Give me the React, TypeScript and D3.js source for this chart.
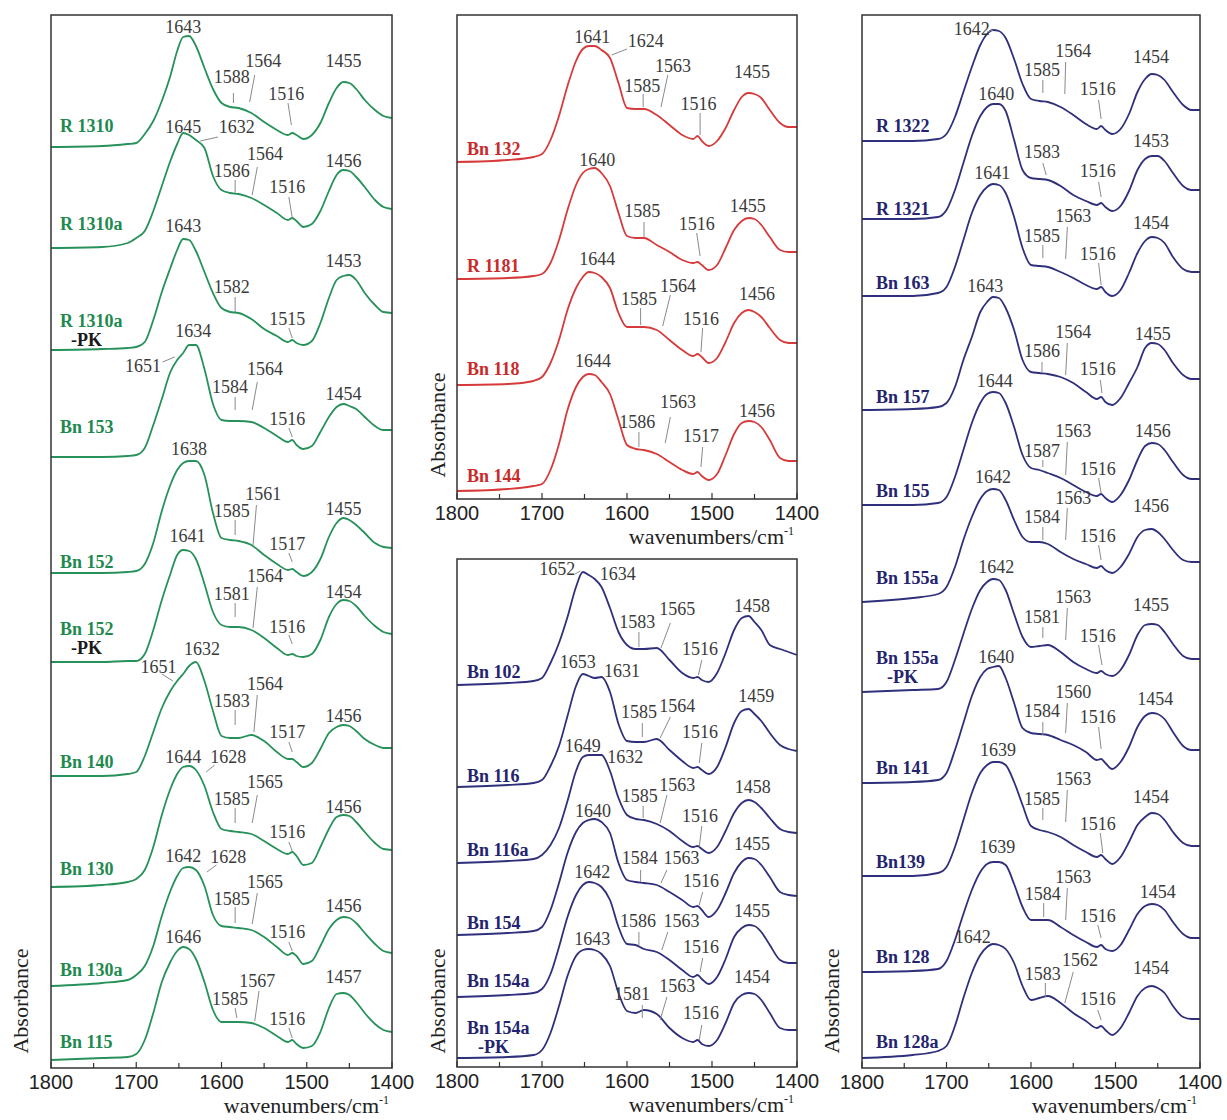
import React from "react";
import * as d3 from "d3";

const WAVENUMBERS = [1800, 1740, 1710, 1700, 1690, 1680, 1670, 1660, 1652, 1645, 1638, 1630, 1620, 1610, 1600, 1590, 1580, 1565, 1550, 1535, 1522, 1517, 1512, 1504, 1494, 1484, 1474, 1465, 1457, 1450, 1442, 1432, 1420, 1410, 1400];
const MAJOR_TICKS = [1800, 1700, 1600, 1500, 1400];
const MINOR_TICKS = [1750, 1650, 1550, 1450];

// ---------- Panel A (left, green) ----------
const namesA = ["R 1310", "R 1310a", "R 1310a", "Bn 153", "Bn 152", "Bn 152", "Bn 140", "Bn 130", "Bn 130a", "Bn 115"];
const suffixA = ["", "", "-PK", "", "", "-PK", "", "", "", ""];
const offsetsA = [921, 820, 718, 611, 495, 406, 292, 181, 82, 8];
const labelHA = [15, 18, 23, 24, 5, 27, 8, 12, 10, 12];
const spectraA = [
  [0, 1, 3, 4, 13, 26, 46, 71, 96, 110, 111, 101, 79, 58, 44, 40, 39, 34, 25, 17, 12, 14, 12, 8, 12, 24, 44, 59, 65, 64, 58, 47, 37, 31, 29],
  [0, 1, 5, 10, 17, 37, 62, 87, 104, 115, 113, 108, 100, 72, 58, 55, 54, 50, 43, 35, 28, 30, 27, 21, 24, 37, 57, 73, 78, 77, 71, 61, 48, 41, 39],
  [0, 1, 2, 3, 8, 30, 58, 82, 100, 111, 110, 99, 78, 57, 42, 38, 37, 31, 21, 14, 8, 10, 7, 5, 9, 27, 52, 70, 74, 75, 70, 57, 45, 38, 37],
  [0, 0, 1, 2, 9, 32, 58, 85, 97, 104, 112, 112, 88, 53, 37, 36, 36, 35, 29, 21, 15, 17, 12, 8, 11, 25, 40, 50, 53, 51, 48, 40, 31, 27, 27],
  [0, 0, 1, 2, 9, 30, 62, 88, 103, 110, 112, 112, 98, 60, 35, 33, 32, 28, 18, 9, 3, 4, 1, -3, 1, 14, 36, 50, 55, 53, 48, 40, 30, 26, 25],
  [0, 0, 1, 1, 8, 32, 62, 88, 107, 112, 111, 103, 78, 50, 37, 35, 35, 32, 24, 14, 7, 8, 6, 5, 8, 22, 45, 58, 62, 61, 56, 46, 36, 30, 28],
  [0, 0, 2, 4, 20, 44, 68, 85, 95, 102, 110, 114, 95, 65, 40, 38, 38, 41, 35, 24, 17, 17, 14, 9, 13, 27, 43, 49, 51, 50, 45, 37, 31, 28, 28],
  [0, 2, 5, 8, 17, 40, 72, 98, 113, 120, 121, 117, 101, 75, 58, 56, 55, 53, 46, 38, 33, 35, 31, 22, 24, 40, 58, 70, 72, 71, 65, 55, 44, 38, 37],
  [0, 3, 6, 11, 20, 40, 70, 95, 110, 118, 119, 116, 100, 71, 60, 59, 58, 56, 49, 39, 31, 33, 30, 22, 25, 40, 57, 66, 69, 68, 63, 53, 42, 35, 33],
  [0, 2, 3, 6, 20, 47, 78, 98, 109, 113, 111, 101, 78, 50, 38, 38, 38, 37, 32, 24, 18, 20, 16, 12, 14, 28, 52, 66, 67, 65, 58, 47, 36, 30, 28],
];
// [text, wavenumber, height, (leader: wn1, h1, wn2, h2)]
const notesA: (string | number)[][][] = [
  [["1643", 1645, 114], ["1588", 1588, 64, 1586, 54, 1586, 44], ["1564", 1551, 80, 1561, 72, 1567, 45], ["1516", 1524, 47, 1522, 44, 1518, 22], ["1455", 1457, 80]],
  [["1645", 1645, 115], ["1632", 1582, 115, 1604, 111, 1625, 107], ["1586", 1588, 71, 1584, 68, 1584, 55], ["1564", 1549, 88, 1558, 81, 1564, 53], ["1516", 1523, 55, 1521, 51, 1517, 30], ["1456", 1457, 81]],
  [["1643", 1645, 118], ["1582", 1588, 57, 1584, 53, 1584, 38], ["1515", 1523, 25, 1521, 22, 1517, 12], ["1453", 1457, 83]],
  [["1634", 1633, 120], ["1651", 1692, 85, 1669, 95, 1655, 100], ["1584", 1590, 64, 1584, 60, 1584, 47], ["1564", 1549, 82, 1558, 75, 1564, 47], ["1516", 1523, 32, 1521, 29, 1517, 20], ["1454", 1457, 57]],
  [["1638", 1638, 118], ["1585", 1588, 56, 1584, 53, 1584, 38], ["1561", 1551, 73, 1559, 68, 1563, 28], ["1517", 1523, 23, 1521, 20, 1517, 11], ["1455", 1457, 58]],
  [["1641", 1640, 120], ["1581", 1588, 62, 1584, 59, 1584, 45], ["1564", 1549, 80, 1558, 75, 1563, 34], ["1516", 1523, 29, 1521, 27, 1517, 18], ["1454", 1457, 64]],
  [["1632", 1623, 121], ["1651", 1674, 103, 1670, 102, 1657, 95], ["1583", 1588, 69, 1584, 66, 1584, 51], ["1564", 1549, 86, 1558, 81, 1562, 44], ["1517", 1523, 38, 1521, 34, 1517, 24], ["1456", 1457, 54]],
  [["1644", 1645, 124], ["1628", 1592, 124, 1608, 122, 1618, 115], ["1585", 1588, 82, 1584, 79, 1584, 64], ["1565", 1549, 99, 1558, 92, 1564, 64], ["1516", 1523, 49, 1521, 45, 1517, 36], ["1456", 1457, 74]],
  [["1642", 1645, 124], ["1628", 1592, 123, 1606, 121, 1617, 114], ["1585", 1588, 81, 1584, 79, 1584, 63], ["1565", 1549, 98, 1558, 93, 1564, 62], ["1516", 1523, 48, 1521, 44, 1517, 35], ["1456", 1457, 74]],
  [["1646", 1645, 117], ["1585", 1590, 55, 1584, 52, 1582, 42], ["1567", 1558, 73, 1556, 69, 1561, 39], ["1516", 1523, 35, 1521, 32, 1517, 22], ["1457", 1457, 77]],
];

// ---------- Panel B (middle top, red) ----------
const namesB = ["Bn 132", "R 1181", "Bn 118", "Bn 144"];
const suffixB = ["", "", "", ""];
const offsetsB = [337, 220, 114, 8];
const labelHB = [7, 7, 10, 9];
const spectraB = [
  [0, 2, 5, 8, 22, 46, 76, 101, 113, 116, 116, 112, 104, 79, 54, 53, 53, 47, 37, 27, 23, 26, 21, 16, 21, 34, 52, 65, 69, 68, 64, 52, 39, 35, 35],
  [0, 1, 3, 5, 16, 39, 69, 94, 106, 110, 111, 106, 93, 66, 43, 41, 41, 34, 27, 19, 16, 17, 14, 9, 14, 31, 49, 58, 61, 60, 54, 42, 29, 27, 27],
  [0, 1, 4, 8, 22, 45, 75, 97, 108, 113, 112, 108, 97, 72, 58, 58, 58, 55, 45, 35, 29, 31, 28, 22, 27, 43, 62, 72, 75, 73, 68, 57, 45, 42, 42],
  [0, 2, 5, 7, 21, 47, 81, 104, 114, 117, 116, 109, 97, 71, 46, 42, 41, 37, 29, 21, 17, 19, 15, 11, 17, 36, 57, 68, 70, 69, 64, 51, 33, 30, 30],
];
const notesB: (string | number)[][][] = [
  [["1641", 1641, 119], ["1624", 1578, 115, 1600, 113, 1618, 107], ["1563", 1546, 90, 1552, 87, 1560, 55], ["1585", 1582, 70, 1581, 68, 1581, 55], ["1516", 1516, 52, 1514, 49, 1514, 27], ["1455", 1453, 84]],
  [["1640", 1635, 113], ["1585", 1582, 62, 1580, 57, 1580, 42], ["1516", 1518, 49, 1518, 46, 1514, 23], ["1455", 1458, 67]],
  [["1644", 1635, 120], ["1585", 1586, 80, 1584, 77, 1584, 60], ["1564", 1540, 93, 1549, 90, 1558, 59], ["1516", 1513, 60, 1511, 57, 1513, 33], ["1456", 1447, 85]],
  [["1644", 1640, 124], ["1586", 1588, 63, 1586, 59, 1586, 44], ["1563", 1540, 83, 1549, 74, 1555, 48], ["1517", 1513, 49, 1511, 44, 1513, 24], ["1456", 1447, 74]],
];

// ---------- Panel C (middle bottom, navy) ----------
const namesC = ["Bn 102", "Bn 116", "Bn 116a", "Bn 154", "Bn 154a", "Bn 154a"];
const suffixC = ["", "", "", "", "", "-PK"];
const offsetsC = [382, 280, 204, 132, 70, 9];
const labelHC = [7, 5, 7, 6, 10, 24];
const spectraC = [
  [0, 2, 4, 7, 22, 42, 68, 98, 113, 110, 106, 98, 77, 53, 40, 36, 36, 37, 25, 12, 7, 8, 5, 3, 12, 32, 55, 67, 69, 63, 55, 40, 36, 33, 30],
  [0, 2, 4, 7, 21, 41, 71, 101, 113, 111, 109, 110, 95, 63, 46, 45, 45, 48, 37, 26, 19, 20, 17, 13, 20, 40, 64, 76, 78, 73, 66, 54, 42, 38, 36],
  [0, 2, 4, 8, 18, 35, 62, 92, 106, 108, 108, 108, 92, 65, 48, 44, 43, 39, 32, 22, 16, 17, 14, 10, 16, 32, 50, 60, 63, 61, 55, 45, 34, 31, 30],
  [0, 2, 4, 8, 25, 52, 82, 103, 112, 115, 116, 113, 102, 72, 55, 53, 52, 50, 43, 35, 28, 29, 25, 18, 25, 42, 62, 73, 77, 76, 70, 58, 43, 40, 39],
  [0, 2, 4, 8, 23, 50, 80, 102, 112, 115, 114, 110, 97, 70, 53, 52, 48, 45, 37, 27, 20, 22, 18, 13, 20, 38, 60, 69, 72, 71, 65, 52, 37, 34, 34],
  [0, 1, 3, 8, 25, 52, 82, 102, 108, 109, 108, 104, 92, 65, 47, 45, 48, 44, 30, 20, 16, 18, 14, 12, 18, 35, 55, 63, 65, 64, 58, 45, 30, 28, 28],
];
const notesC: (string | number)[][][] = [
  [["1652", 1682, 110, 1661, 111, 1655, 114], ["1634", 1611, 105], ["1583", 1588, 57, 1586, 53, 1586, 38], ["1565", 1541, 70, 1549, 62, 1560, 37], ["1516", 1514, 30, 1512, 25, 1516, 10], ["1458", 1453, 73]],
  [["1653", 1658, 119], ["1631", 1606, 110], ["1585", 1586, 69, 1582, 64, 1582, 50], ["1564", 1541, 75, 1549, 70, 1561, 49], ["1516", 1514, 49, 1512, 44, 1515, 24], ["1459", 1448, 85]],
  [["1649", 1652, 111], ["1632", 1602, 100], ["1585", 1585, 61, 1581, 57, 1581, 45], ["1563", 1541, 72, 1553, 68, 1561, 40], ["1516", 1514, 41, 1512, 37, 1515, 16], ["1458", 1452, 70]],
  [["1640", 1640, 118], ["1584", 1585, 71, 1584, 65, 1584, 53], ["1563", 1536, 71, 1553, 65, 1560, 52], ["1516", 1513, 48, 1511, 43, 1515, 30], ["1455", 1453, 85]],
  [["1642", 1641, 119], ["1586", 1587, 70, 1586, 65, 1586, 52], ["1563", 1536, 70, 1552, 65, 1559, 47], ["1516", 1513, 44, 1511, 39, 1514, 25], ["1455", 1453, 80]],
  [["1643", 1641, 113], ["1581", 1594, 58, 1582, 53, 1582, 40], ["1563", 1541, 66, 1553, 61, 1561, 38], ["1516", 1513, 39, 1512, 33, 1515, 18], ["1454", 1453, 75]],
];

// ---------- Panel D (right, navy) ----------
const namesD = ["R 1322", "R 1321", "Bn 163", "Bn 157", "Bn 155", "Bn 155a", "Bn 155a", "Bn 141", "Bn139", "Bn 128", "Bn 128a"];
const suffixD = ["", "", "", "", "", "", "-PK", "", "", "", ""];
const offsetsD = [927, 849, 772, 658, 563, 466, 376, 285, 192, 96, 10];
const labelHD = [9, 4, 7, 7, 8, 18, 28, 9, 8, 9, 10];
const spectraD = [
  [0, 0, 2, 7, 24, 49, 74, 96, 107, 111, 110, 103, 82, 57, 42, 40, 39, 34, 26, 17, 12, 15, 11, 7, 12, 27, 49, 62, 67, 66, 61, 49, 36, 31, 31],
  [0, 0, 2, 9, 29, 56, 83, 103, 112, 115, 115, 108, 79, 49, 41, 40, 39, 33, 24, 18, 14, 16, 12, 8, 13, 28, 49, 60, 63, 63, 58, 46, 33, 29, 29],
  [0, 0, 3, 9, 29, 56, 83, 101, 109, 112, 111, 103, 79, 48, 31, 30, 29, 24, 18, 11, 7, 9, 4, 0, 6, 23, 43, 55, 59, 58, 53, 39, 27, 24, 24],
  [0, 1, 3, 7, 23, 50, 73, 98, 108, 113, 112, 102, 80, 50, 38, 37, 36, 33, 27, 18, 11, 13, 8, 5, 12, 27, 43, 62, 67, 66, 60, 47, 35, 31, 31],
  [0, 0, 2, 8, 28, 55, 82, 102, 111, 113, 112, 102, 78, 50, 37, 35, 32, 27, 20, 13, 9, 11, 7, 3, 10, 25, 45, 59, 62, 61, 55, 43, 30, 26, 26],
  [0, 4, 8, 15, 35, 62, 85, 103, 111, 113, 112, 102, 82, 65, 60, 60, 58, 50, 43, 38, 34, 36, 32, 29, 35, 48, 65, 72, 73, 70, 63, 52, 42, 40, 40],
  [0, 2, 3, 10, 32, 58, 83, 102, 110, 113, 112, 102, 78, 55, 45, 46, 47, 40, 30, 23, 19, 21, 18, 16, 22, 37, 57, 67, 68, 67, 60, 48, 36, 33, 33],
  [0, 1, 3, 10, 33, 60, 87, 106, 114, 116, 117, 105, 80, 55, 50, 49, 48, 43, 38, 31, 23, 24, 20, 14, 21, 36, 56, 67, 70, 69, 64, 51, 37, 33, 33],
  [0, 0, 3, 9, 29, 56, 83, 103, 111, 114, 114, 111, 94, 71, 50, 46, 44, 39, 31, 24, 19, 21, 17, 12, 19, 34, 51, 59, 63, 62, 56, 44, 33, 30, 30],
  [0, 1, 3, 11, 32, 58, 82, 100, 108, 110, 110, 107, 88, 65, 52, 52, 52, 45, 37, 30, 25, 27, 23, 21, 27, 42, 58, 66, 68, 67, 62, 50, 38, 34, 34],
  [0, 3, 7, 12, 32, 60, 85, 103, 111, 114, 113, 109, 95, 72, 58, 60, 62, 55, 45, 37, 30, 32, 28, 23, 30, 45, 62, 70, 72, 70, 65, 52, 41, 39, 39],
];
const notesD: (string | number)[][][] = [
  [["1642", 1670, 106, 1652, 109, 1645, 111], ["1585", 1587, 65, 1586, 61, 1586, 48], ["1564", 1550, 84, 1559, 79, 1560, 47], ["1516", 1521, 46, 1520, 41, 1517, 22], ["1454", 1458, 78]],
  [["1640", 1641, 119], ["1583", 1587, 61, 1586, 56, 1582, 44], ["1516", 1521, 42, 1520, 37, 1517, 22], ["1453", 1458, 72]],
  [["1641", 1646, 117], ["1563", 1550, 74, 1557, 69, 1559, 37], ["1585", 1587, 54, 1586, 51, 1586, 38], ["1516", 1521, 36, 1520, 33, 1517, 11], ["1454", 1458, 67]],
  [["1643", 1654, 118], ["1564", 1550, 72, 1557, 67, 1559, 35], ["1586", 1587, 53, 1587, 48, 1587, 37], ["1516", 1521, 35, 1518, 30, 1516, 17], ["1455", 1456, 70]],
  [["1644", 1643, 118], ["1563", 1550, 68, 1557, 63, 1559, 30], ["1587", 1587, 48, 1586, 45, 1586, 38], ["1516", 1521, 30, 1520, 27, 1517, 12], ["1456", 1456, 68]],
  [["1642", 1645, 119], ["1563", 1550, 98, 1557, 94, 1559, 62], ["1584", 1587, 79, 1586, 75, 1586, 62], ["1516", 1521, 60, 1520, 57, 1517, 42], ["1456", 1458, 90]],
  [["1642", 1641, 119], ["1563", 1550, 89, 1557, 84, 1559, 52], ["1581", 1587, 69, 1586, 65, 1586, 54], ["1516", 1521, 50, 1520, 47, 1516, 27], ["1455", 1458, 81]],
  [["1640", 1641, 120], ["1560", 1550, 85, 1557, 80, 1559, 50], ["1584", 1587, 66, 1586, 61, 1586, 48], ["1516", 1521, 60, 1520, 56, 1517, 34], ["1454", 1453, 78]],
  [["1639", 1639, 120], ["1563", 1550, 91, 1557, 86, 1559, 54], ["1585", 1587, 71, 1586, 68, 1586, 56], ["1516", 1521, 46, 1518, 43, 1515, 23], ["1454", 1458, 73]],
  [["1639", 1640, 119], ["1563", 1550, 89, 1557, 84, 1559, 52], ["1584", 1586, 72, 1585, 69, 1585, 55], ["1516", 1521, 50, 1521, 47, 1517, 34], ["1454", 1450, 74]],
  [["1642", 1669, 115], ["1562", 1542, 92, 1550, 86, 1560, 55], ["1583", 1586, 78, 1583, 75, 1583, 61], ["1516", 1521, 53, 1521, 48, 1517, 38], ["1454", 1458, 84]],
];

const SERIF = "'Liberation Serif', 'Times New Roman', 'DejaVu Serif', serif";
const SANS = "'Liberation Sans', Arial, 'DejaVu Sans', sans-serif";

type PanelDef = {
  x0: number; x1: number; y0: number; y1: number;
  lineColor: string; labelColor: string; suffixColor: string;
  names: string[]; suffixes: string[]; offsets: number[]; labelH: number[];
  spectra: number[][]; notes: (string | number)[][][];
  labelDx: number; absX: number; absY: number;
};

const panels: PanelDef[] = [
  { x0: 51, x1: 392, y0: 15, y1: 1068, lineColor: "#27915a", labelColor: "#1f8a50", suffixColor: "#1a1a1a",
    names: namesA, suffixes: suffixA, offsets: offsetsA, labelH: labelHA, spectra: spectraA, notes: notesA,
    labelDx: 9, absX: 28, absY: 1001 },
  { x0: 457, x1: 797, y0: 15, y1: 499, lineColor: "#d63a3a", labelColor: "#c92a2a", suffixColor: "#c92a2a",
    names: namesB, suffixes: suffixB, offsets: offsetsB, labelH: labelHB, spectra: spectraB, notes: notesB,
    labelDx: 10, absX: 445, absY: 425 },
  { x0: 457, x1: 797, y0: 559, y1: 1067, lineColor: "#2f2f7c", labelColor: "#24246e", suffixColor: "#24246e",
    names: namesC, suffixes: suffixC, offsets: offsetsC, labelH: labelHC, spectra: spectraC, notes: notesC,
    labelDx: 10, absX: 445, absY: 1001 },
  { x0: 862, x1: 1200, y0: 15, y1: 1068, lineColor: "#2f2f7c", labelColor: "#24246e", suffixColor: "#24246e",
    names: namesD, suffixes: suffixD, offsets: offsetsD, labelH: labelHD, spectra: spectraD, notes: notesD,
    labelDx: 14, absX: 839, absY: 1001 },
];

function Panel({ p }: { p: PanelDef }) {
  const x = d3.scaleLinear().domain([1800, 1400]).range([p.x0, p.x1]);
  const y = d3.scaleLinear().domain([0, p.y1 - p.y0]).range([p.y1, p.y0]);
  return (
    <g>
      {p.spectra.map((s, i) => {
        const gen = d3
          .line<number>()
          .x((_, j) => x(WAVENUMBERS[j]))
          .y((v) => y(p.offsets[i] + v))
          .curve(d3.curveMonotoneX);
        return <path key={"s" + i} d={gen(s) || ""} fill="none" stroke={p.lineColor} strokeWidth={1.8} strokeLinejoin="round" />;
      })}
      {p.notes.map((list, i) =>
        list.map((n, k) => {
          const off = p.offsets[i];
          const els: any[] = [];
          if (n.length > 3) {
            els.push(
              <line key={"l" + i + "_" + k}
                x1={x(n[3] as number)} y1={y(off + (n[4] as number))}
                x2={x(n[5] as number)} y2={y(off + (n[6] as number))}
                stroke="#8a8a8a" strokeWidth={1} />
            );
          }
          els.push(
            <text key={"t" + i + "_" + k} x={x(n[1] as number)} y={y(off + (n[2] as number))}
              textAnchor="middle" fontFamily={SERIF} fontSize={18} fill="#3a3a3a">{n[0]}</text>
          );
          return els;
        })
      )}
      {p.names.map((name, i) => {
        const ly = y(p.offsets[i] + p.labelH[i]);
        return (
          <g key={"n" + i}>
            <text x={p.x0 + p.labelDx} y={ly} fontFamily={SERIF} fontWeight="bold" fontSize={18} fill={p.labelColor}>{name}</text>
            {p.suffixes[i] ? (
              <text x={p.x0 + p.labelDx + 11} y={ly + 19} fontFamily={SERIF} fontWeight="bold" fontSize={18} fill={p.suffixColor}>{p.suffixes[i]}</text>
            ) : null}
          </g>
        );
      })}
      <rect x={p.x0} y={p.y0} width={p.x1 - p.x0} height={p.y1 - p.y0} fill="none" stroke="#333" strokeWidth={1.5} />
      {MAJOR_TICKS.map((t) => (
        <g key={"M" + t}>
          <line x1={x(t)} x2={x(t)} y1={p.y1} y2={p.y1 - 6} stroke="#333" strokeWidth={1.2} />
          <text x={x(t)} y={p.y1 + 21} textAnchor="middle" fontFamily={SANS} fontSize={20} fill="#222">{t}</text>
        </g>
      ))}
      {MINOR_TICKS.map((t) => (
        <line key={"m" + t} x1={x(t)} x2={x(t)} y1={p.y1} y2={p.y1 - 5} stroke="#333" strokeWidth={1.2} />
      ))}
      <text x={p.x1 - 3} y={p.y1 + 45} textAnchor="end" fontFamily={SERIF} fontSize={22} fill="#222">
        <tspan>wavenumbers/cm</tspan>
        <tspan dy={-9} fontSize={12}>-1</tspan>
      </text>
      <text transform={`translate(${p.absX},${p.absY}) rotate(-90)`} textAnchor="middle" fontFamily={SERIF} fontSize={22} fill="#222">Absorbance</text>
    </g>
  );
}

export default function App() {
  return (
    <div style={{ position: "absolute", left: 0, top: 0, width: 1227, height: 1120, background: "#fff" }}>
      <svg width={1227} height={1120} viewBox="0 0 1227 1120" style={{ display: "block" }}>
        <rect x={0} y={0} width={1227} height={1120} fill="#fff" />
        {panels.map((p, i) => (
          <Panel key={i} p={p} />
        ))}
      </svg>
    </div>
  );
}
